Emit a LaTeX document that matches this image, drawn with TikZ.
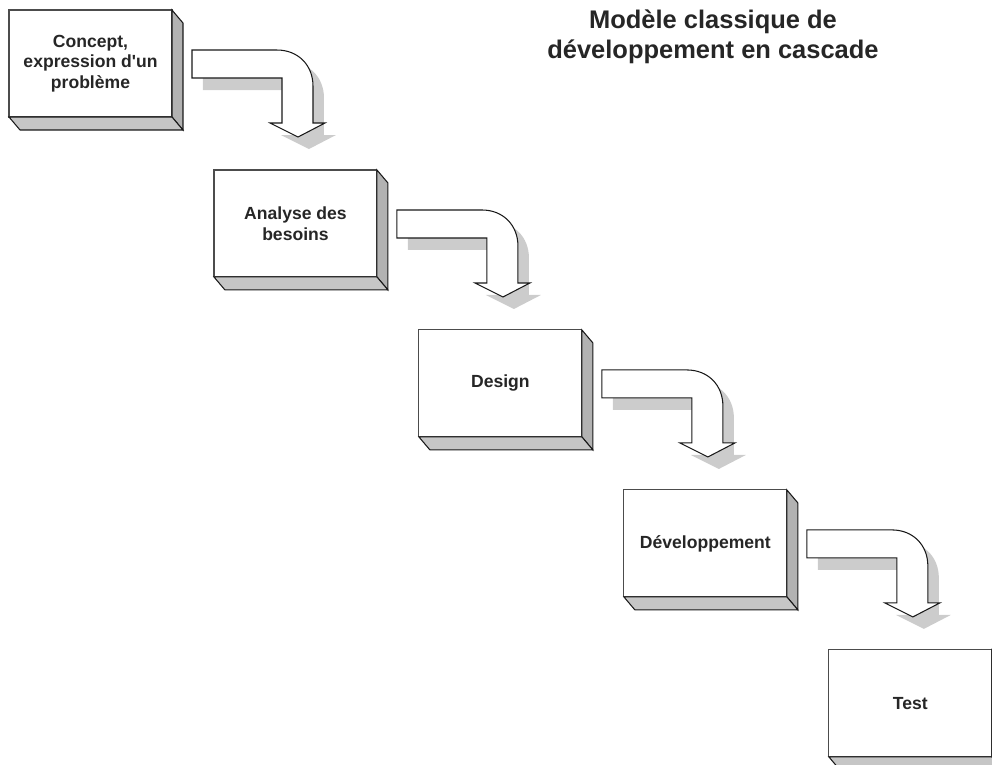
\documentclass[tikz,border=0pt]{standalone}
\usepackage{fontspec}
\setmainfont{Liberation Sans}
\usepackage{tikz}
\usetikzlibrary{positioning, calc}

\newcommand{\flowpath}{(0,0) -- (85,0) .. controls (106,0) and (121,15) .. (121,36)
  -- (121,73) -- (133,73) -- (106,87) -- (78,73) -- (90,73) -- (90,28) -- (0,28) -- cycle}

\begin{document}
\begin{tikzpicture}[
			x=0.02cm, y=-0.02cm,
			node distance=1.06cm and 0.84cm,
			phase/.style={rectangle, draw=gray!60!black, fill=white, line width=0.6pt,
				minimum width=3.26cm, minimum height=2.14cm, outer sep=0pt,
				align=center, text=black!85,
				font=\bfseries\fontsize{10}{11.8}\selectfont},
			side/.style={fill=gray!60, draw=gray!20!black, line width=0.6pt},
			base/.style={fill=gray!45, draw=gray!20!black, line width=0.6pt},
			flow/.style={fill=white, draw=gray!20!black, line width=0.6pt},
			flowshadow/.style={fill=gray!40},
			titre/.style={align=center, text=black!85,
				font=\bfseries\fontsize{14.5}{17}\selectfont}
			]
			\useasboundingbox (0,0) rectangle (992,765);
			\clip (0,0) rectangle (992,765);
			
			\node[titre] (modele) at (713,37)
			{Modèle classique de\\développement en cascade};
			
			\node[phase] (concept) at (90.5,63.5)
			{Concept,\\expression d\textquotesingle un\\problème};
			\node[phase, below right=of concept] (analyse)
			{Analyse des\\besoins};
			\node[phase, below right=of analyse] (design) {Design};
			\node[phase, below right=of design] (dev) {Développement};
			\node[phase, below right=of dev] (test) {Test};
			
			% faces du relief
			\foreach \n in {concept, analyse, design, dev, test} {
				\filldraw[side] (\n.north east) -- ++(11,13)
				-- ($(\n.south east)+(11,13)$) -- (\n.south east) -- cycle;
				\filldraw[base] (\n.south west) -- ++(11,13)
				-- ($(\n.south east)+(11,13)$) -- (\n.south east) -- cycle;
			}
			
			% fleches coudees
			\foreach \n in {concept, analyse, design, dev} {
				\begin{scope}[shift={($(\n.north east)+(20,40)$)}]
					\fill[flowshadow, shift={(11,12)}] \flowpath;
					\draw[flow] \flowpath;
				\end{scope}
			}
		\end{tikzpicture}
\end{document}
